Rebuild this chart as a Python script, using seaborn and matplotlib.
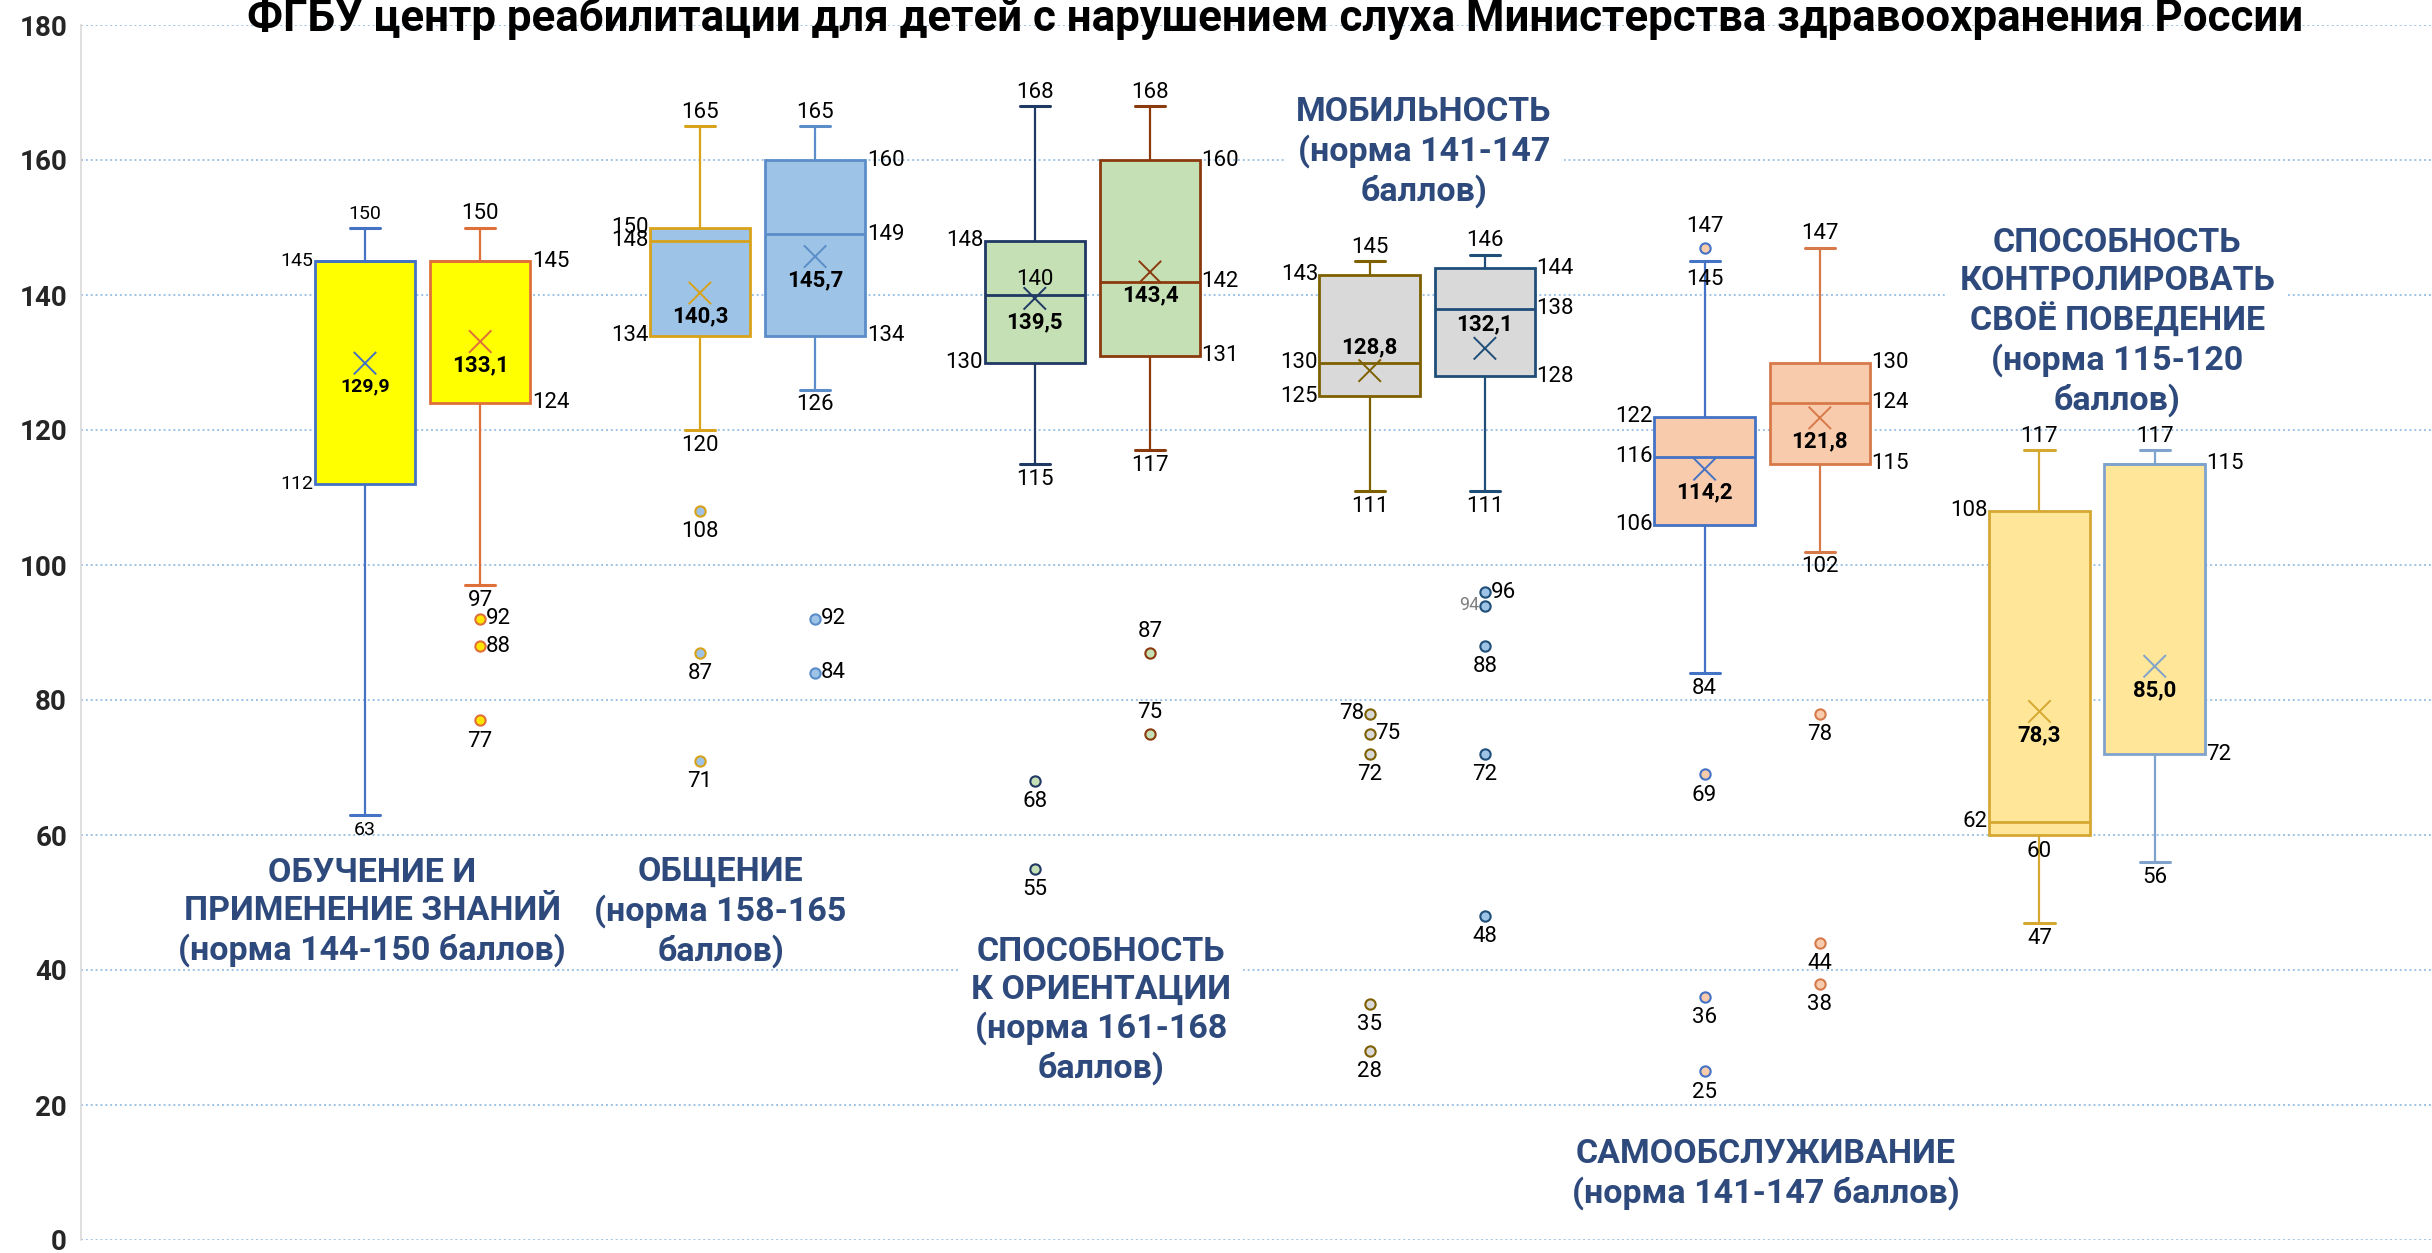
import numpy as np
import pandas as pd
import matplotlib
matplotlib.use("Agg")
import matplotlib.pyplot as plt
import seaborn as sns

# categories (one group of two boxes each)
categories = [
    "ОБУЧЕНИЕ И\nПРИМЕНЕНИЕ ЗНАНИЙ\n(норма 144-150 баллов)",
    "ОБЩЕНИЕ\n(норма 158-165\nбаллов)",
    "СПОСОБНОСТЬ\nК ОРИЕНТАЦИИ\n(норма 161-168\nбаллов)",
    "МОБИЛЬНОСТЬ\n(норма 141-147\nбаллов)",
    "САМООБСЛУЖИВАНИЕ\n(норма 141-147 баллов)",
    "СПОСОБНОСТЬ\nКОНТРОЛИРОВАТЬ\nСВОЁ ПОВЕДЕНИЕ\n(норма 115-120\nбаллов)",
]

# box statistics, two boxes per category
box_min = [63, 97, 120, 126, 115, 117, 111, 111, 84, 102, 47, 56]
box_q1 = [112, 124, 134, 134, 130, 131, 125, 128, 106, 115, 60, 72]
box_med = [145, 145, 148, 149, 140, 142, 130, 138, 116, 124, 62, 115]
box_q3 = [145, 145, 150, 160, 148, 160, 143, 144, 122, 130, 108, 115]
box_max = [150, 150, 165, 165, 168, 168, 145, 146, 145, 147, 117, 117]
box_mean = [129.9, 133.1, 140.3, 145.7, 139.5, 143.4, 128.8, 132.1, 114.2, 121.8, 78.3, 85.0]
outliers = [[], [92, 88, 77], [108, 87, 71], [92, 84], [68, 55], [87, 75],
            [78, 75, 72, 35, 28], [96, 94, 88, 72, 48], [147, 69, 36, 25],
            [78, 44, 38], [], []]

title = "ФГБУ центр реабилитации для детей с нарушением слуха Министерства здравоохранения России"

# styling
fills = ["#FFFF00", "#FFFF00", "#9DC3E6", "#9DC3E6", "#C5E0B4", "#C5E0B4",
         "#D9D9D9", "#D9D9D9", "#F8CBAD", "#F8CBAD", "#FFE699", "#FFE699"]
edges = ["#4472C4", "#E0703A", "#D9A21B", "#5B8DC9", "#203864", "#8B3A0E",
         "#7F6000", "#1F4E79", "#4472C4", "#D77A4A", "#D6A832", "#7FA3CC"]
flier_fills = ["#FFFF00", "#FFE600", "#9DC3E6", "#9DC3E6", "#C5E0B4", "#C5E0B4",
               "#D9D9D9", "#9DC3E6", "#F8CBAD", "#F8CBAD", "#FFE699", "#FFE699"]
label_blue = "#2E4A7D"

sns.set_theme(style="white")
plt.rcParams['font.family'] = ['Roboto', 'DejaVu Sans']

W, H = 2432, 1253
fig = plt.figure(figsize=(W / 100, H / 100), dpi=100)
ax = fig.add_axes([81 / W, 1 - 1240 / H, 1 - 81 / W, (1240 - 25) / H])

n = len(box_min)
group = np.repeat(np.arange(len(categories)), 2)
offset = np.tile([-0.172, 0.172], len(categories))
pos = group + offset

stats = []
for i in range(n):
    stats.append(dict(whislo=box_min[i], q1=box_q1[i], med=box_med[i],
                      q3=box_q3[i], whishi=box_max[i], fliers=[]))

res = ax.bxp(stats, positions=pos, widths=0.3, patch_artist=True,
             showfliers=False, capwidths=0.09, manage_ticks=False,
             boxprops=dict(linewidth=2.0), whiskerprops=dict(linewidth=1.6),
             capprops=dict(linewidth=2.2), medianprops=dict(linewidth=2.0))
for i in range(n):
    res['boxes'][i].set_facecolor(fills[i])
    res['boxes'][i].set_edgecolor(edges[i])
    for k in (2 * i, 2 * i + 1):
        res['whiskers'][k].set_color(edges[i])
        res['caps'][k].set_color(edges[i])
    res['medians'][i].set_color(edges[i])
    res['boxes'][i].set_zorder(3)
    res['medians'][i].set_zorder(4)

# means
mean_df = pd.DataFrame({"pos": pos, "mean": box_mean, "box": [str(i) for i in range(n)]})
sns.scatterplot(data=mean_df, x="pos", y="mean", hue="box",
                palette={str(i): edges[i] for i in range(n)}, marker="x",
                s=260, linewidth=1.4, legend=False, ax=ax, zorder=5)

# outliers
for i in range(n):
    if not outliers[i]:
        continue
    odf = pd.DataFrame({"pos": [pos[i]] * len(outliers[i]), "val": outliers[i]})
    sns.scatterplot(data=odf, x="pos", y="val", color=flier_fills[i],
                    edgecolor=edges[i], linewidth=1.5, s=55, legend=False,
                    ax=ax, zorder=5)

# data labels
def lab(text, x, y, dx=0, dy=0, ha="center", va="center", size=16, **kw):
    ax.annotate(text, (x, y), xytext=(dx, dy), textcoords="offset points",
                ha=ha, va=va, fontsize=size, color=kw.pop("color", "black"),
                zorder=6, **kw)

for i in range(n):
    sz = 14 if i == 0 else 16
    left = (i % 2 == 0)
    xs = pos[i] - 0.15 if left else pos[i] + 0.15
    ha = "right" if left else "left"
    dx = -1 if left else 1
    # quartiles
    q_vals = [box_q3[i], box_q1[i]]
    if box_med[i] not in (box_q1[i], box_q3[i]):
        q_vals.append(box_med[i])
    for v in q_vals:
        if i == 10 and v == box_q1[i]:
            lab(str(v), pos[i], v, 0, -12, size=sz)
        elif i == 4 and v == box_med[i]:
            lab(str(v), pos[i], v, 0, 11, size=sz)
        else:
            lab(str(v), xs, v, dx, 0, ha=ha, size=sz)
    # whisker ends
    if i == 8:
        lab(str(box_max[i]), pos[i], box_max[i], 0, -13, size=sz)
    else:
        lab(str(box_max[i]), pos[i], box_max[i], 0, 10, size=sz)
    lab(str(box_min[i]), pos[i], box_min[i], 0, -11, size=sz)
    # mean
    mtxt = f"{box_mean[i]:.1f}".replace(".", ",")
    mdy = 17 if i in (6, 7) else -17
    lab(mtxt, pos[i], box_mean[i], 0, mdy, size=(14 if i == 0 else 16),
        fontweight="bold")

# outlier labels
out_side = {(1, 92): "r", (1, 88): "r", (3, 92): "r", (3, 84): "r",
            (5, 87): "t", (5, 75): "t", (6, 78): "l", (6, 75): "r",
            (7, 96): "r", (7, 94): "l", (8, 147): "t"}
for i in range(n):
    for v in outliers[i]:
        side = out_side.get((i, v), "b")
        col = "#7F7F7F" if (i, v) == (7, 94) else "black"
        if side == "b":
            lab(str(v), pos[i], v, 0, -15, color=col)
        elif side == "t":
            lab(str(v), pos[i], v, 0, 15, color=col)
        elif side == "r":
            lab(str(v), pos[i], v, 4, 0, ha="left", color=col)
        else:
            lab(str(v), pos[i], v, -4, 0, ha="right", color=col,
                size=(13 if (i, v) == (7, 94) else 16))

# category labels
cat_xy = [(-0.15, 48.6), (0.89, 48.6), (2.025, 34.0), (2.99, 161.2),
          (4.01, 9.8), (5.06, 136.0)]
for k, (txt, (cx, cy)) in enumerate(zip(categories, cat_xy)):
    box = dict(boxstyle="square,pad=0.35", fc="white", ec="none") if k in (2, 3, 5) else None
    ax.text(cx, cy, txt, ha="center", va="center", fontsize=24.5,
            fontweight="bold", color=label_blue, linespacing=1.22,
            bbox=box, zorder=2)

ax.set_xlim(-1.02, 6.0)
ax.set_ylim(0, 180)
ax.set_yticks(range(0, 181, 20))
ax.set_xticks([])
ax.set_xlabel("")
ax.set_ylabel("")
ax.yaxis.grid(True, linestyle=(0, (1, 1.5)), color="#9DC3E6", linewidth=1.4)
ax.set_axisbelow(True)
for s in ("top", "right", "bottom"):
    ax.spines[s].set_visible(False)
ax.spines["left"].set_color("#D9D9D9")
ax.spines["left"].set_linewidth(1.2)
ax.tick_params(axis="y", length=0, pad=10, labelsize=20)
for t in ax.get_yticklabels():
    t.set_fontweight("bold")
ax.patch.set_alpha(0)

fig.text(1275 / W, 1 - 18 / H, title, ha="center", va="center",
         fontsize=31.6, fontweight="bold", color="black")

fig.savefig("out.png", dpi=100, facecolor="white")
